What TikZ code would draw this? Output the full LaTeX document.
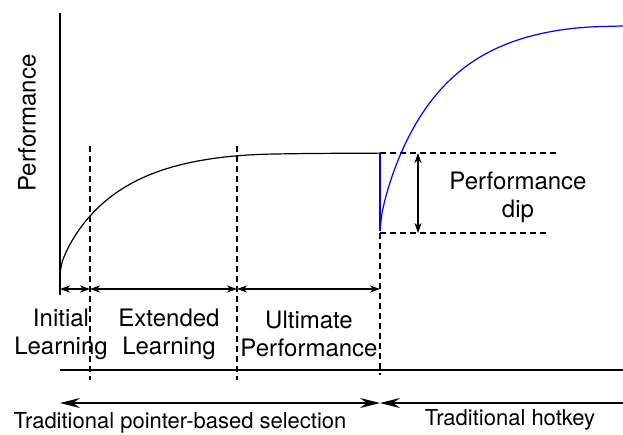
\documentclass[tikz,border=0pt]{standalone}
\usepackage{fontspec}
\setmainfont{TeX Gyre Heros}
\usetikzlibrary{arrows.meta}

\begin{document}
\begin{tikzpicture}[x=1pt,y=-1pt,
  solid line/.style={line width=1.2pt},
  guide/.style={line width=1.1pt, dash pattern=on 6pt off 4pt},
  smalltip/.tip={Stealth[length=10pt,width=7pt,inset=3pt]},
  bigtip/.tip={Stealth[length=20pt,width=10pt,inset=7pt]},
  span/.style={line width=1.1pt, smalltip-smalltip},
  lbl/.style={font=\fontsize{24}{28}\selectfont, align=center, inner sep=0pt},
  blbl/.style={font=\fontsize{22}{26}\selectfont, inner sep=0pt, anchor=base}]
\useasboundingbox (0,0) rectangle (623,434);

% key points
\coordinate (ytop) at (60,13);
\coordinate (ybot) at (60,295);
\coordinate (p0) at (60,289);
\coordinate (p1) at (90,289);
\coordinate (p2) at (237,289);
\coordinate (p3) at (380,289);
\coordinate (g1t) at (90,146);
\coordinate (g1b) at (90,380);
\coordinate (g2t) at (237,146);
\coordinate (g2b) at (237,380);
\coordinate (g3t) at (380,153);
\coordinate (g3b) at (380,375);
\coordinate (dipt) at (380,153);
\coordinate (dipb) at (380,231);
\coordinate (hiend) at (557,153);
\coordinate (loend) at (550,233);
\coordinate (lostart) at (380,233);
\coordinate (arrt) at (418,153);
\coordinate (arrb) at (418,233);
\coordinate (baseL) at (60,370);
\coordinate (baseR) at (623,370);
\coordinate (tL) at (60,403);
\coordinate (tM) at (380,403);
\coordinate (tR) at (623,403);

% axis
\draw[solid line] (ytop) -- (ybot);

% phase boundaries
\draw[guide] (g1t) -- (g1b);
\draw[guide] (g2t) -- (g2b);
\draw[guide] (g3t) -- (g3b);
\draw[guide] (dipt) -- (hiend);
\draw[guide] (lostart) -- (loend);

% learning curve with the old method
\draw[solid line] plot[domain=60:380, samples=160, smooth]
  (\x, {153+120*(0.5*exp(-0.019*(\x-60)) + 0.5*(1-sqrt(1-((min(\x-60,210)-210)/210)^2)))});

% drop and recovery with hotkeys
\draw[blue, solid line] (dipt) -- (dipb);
\draw[blue, solid line] plot[domain=380:623, samples=160, smooth]
  (\x, {25+206*(0.5*exp(-0.019*(\x-380)) + 0.5*(1-sqrt(1-((min(\x-380,220)-220)/220)^2)))});

% dip size
\draw[span] (arrt) -- (arrb);

% phase spans
\draw[span] (p0) -- (p1);
\draw[span] (p1) -- (p2);
\draw[span] (p2) -- (p3);

% time line
\draw[solid line] (baseL) -- (baseR);
\draw[solid line, bigtip-bigtip] (tL) -- (tM);
\draw[solid line, bigtip-] (tM) -- (tR);

% labels
\node[lbl, rotate=90] (ylab) at (27,123) {Performance};
\node[lbl] (dip) at (518,197) {Performance\\dip};
\node[lbl] (ph1) at (61,334) {Initial\\Learning};
\node[lbl] (ph2) at (169,334) {Extended\\Learning};
\node[lbl] (ph3) at (309,334) {Ultimate\\Performance};
\node[blbl] (old) at (180,428) {Traditional pointer-based selection};
\node[blbl] (new) at (510,425) {Traditional hotkey};
\end{tikzpicture}
\end{document}
